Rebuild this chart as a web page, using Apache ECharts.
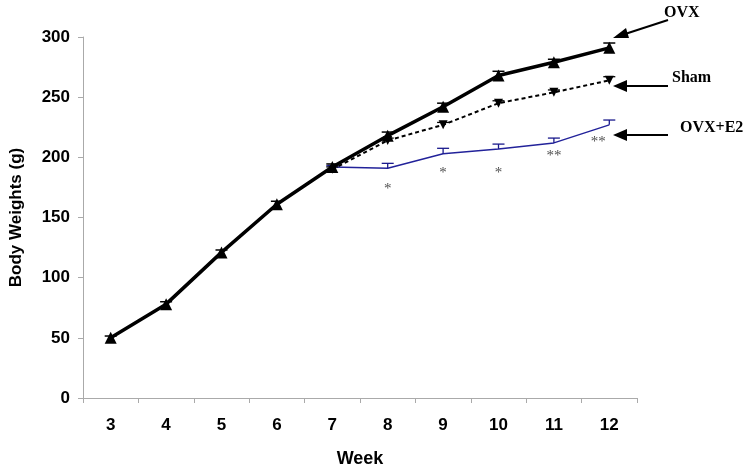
<!DOCTYPE html>
<html><head><meta charset="utf-8">
<script src="https://cdn.jsdelivr.net/npm/echarts@6/dist/echarts.min.js"></script>
<style>html,body{margin:0;padding:0;background:#fff}#c{width:751px;height:473px}</style>
</head><body><div id="c"></div>
<script>
const weeks = ['3','4','5','6','7','8','9','10','11','12'];
const ovx     = [50, 78, 121, 161, 192, 218, 242, 268, 279, 291];
const ovxErr  = [1.5, 2, 2, 2.5, 2.5, 3, 3, 3.5, 2.5, 4];
const sham    = [null, null, null, null, 190, 214, 227, 245, 254, 264];
const shamErr = [0, 0, 0, 0, 2, 2, 2, 2, 2, 3];
const e2      = [null, null, null, null, 192, 191, 203, 207, 212, 227];
const e2Err   = [0, 0, 0, 0, 1, 4, 4.5, 4, 4, 4];
const sigText = [null, null, null, null, null, '*', '*', '*', '**', '**'];
const sigY    = [null, null, null, null, null, 174, 187, 187, 201, 213];
const yTicks  = [0, 50, 100, 150, 200, 250, 300];

const chart = echarts.init(document.getElementById('c'), null, {renderer: 'canvas'});

function errSeries(vals, errs, color, width) {
  return {
    type: 'custom', z: 5,
    data: vals.map((v, i) => v == null ? null : [i, v, v + errs[i]]).filter(d => d),
    renderItem: function (params, api) {
      const p0 = api.coord([api.value(0), api.value(1)]);
      const p1 = api.coord([api.value(0), api.value(2)]);
      return {type: 'group', children: [
        {type: 'line', shape: {x1: p0[0], y1: p0[1], x2: p1[0], y2: p1[1]}, style: {stroke: color, lineWidth: width}},
        {type: 'line', shape: {x1: p1[0] - 6, y1: p1[1], x2: p1[0] + 6, y2: p1[1]}, style: {stroke: color, lineWidth: width}}
      ]};
    }
  };
}

const sans = 'Liberation Sans, Arial, sans-serif';
const axisFont = {fontFamily: sans, fontWeight: 'bold', fontSize: 17, color: '#000'};
const serif = 'Liberation Serif, Times New Roman, serif';

const sigData = [];
sigText.forEach((t, i) => {
  if (t == null) return;
  const d = {value: [i, sigY[i]], name: t};
  if (i === weeks.length - 1) d.label = {offset: [-11, 0]};
  sigData.push(d);
});

chart.setOption({
  animation: false,
  grid: {left: 81, right: 114, top: 37, bottom: 73},
  xAxis: {
    type: 'category', data: weeks, boundaryGap: true,
    name: 'Week', nameLocation: 'middle', nameGap: 52,
    nameTextStyle: {fontFamily: sans, fontWeight: 'bold', fontSize: 18, color: '#000'},
    axisLine: {lineStyle: {color: '#aaa', width: 1}},
    axisTick: {show: true, length: 5, lineStyle: {color: '#aaa'}},
    axisLabel: Object.assign({margin: 19}, axisFont),
    splitLine: {show: false}
  },
  yAxis: {
    type: 'value', min: 0, max: 300, interval: 50,
    name: 'Body Weights (g)', nameLocation: 'middle', nameGap: 58,
    nameTextStyle: axisFont,
    axisLine: {show: true, lineStyle: {color: '#aaa', width: 1}},
    axisTick: {show: true, length: 5, lineStyle: {color: '#aaa'}},
    axisLabel: Object.assign({margin: 13}, axisFont),
    splitLine: {show: false}
  },
  series: [
    errSeries(e2, e2Err, '#1a1a8c', 1.3),
    {type: 'line', data: e2, z: 3, symbol: 'none', lineStyle: {color: '#22229a', width: 1.5}, itemStyle: {color: '#22229a'}},
    errSeries(sham, shamErr, '#000', 1.3),
    {type: 'line', data: sham, z: 4, symbol: 'triangle', symbolRotate: 180, symbolSize: 9,
     lineStyle: {color: '#000', width: 2, type: [4, 3]}, itemStyle: {color: '#000'}},
    errSeries(ovx, ovxErr, '#000', 1.5),
    {type: 'line', data: ovx, z: 6, symbol: 'triangle', symbolSize: 12,
     lineStyle: {color: '#000', width: 3.5}, itemStyle: {color: '#000'}},
    {type: 'scatter', z: 7, symbolSize: 0, data: sigData,
     label: {show: true, position: 'inside', formatter: p => p.name, fontFamily: serif, fontSize: 15, color: '#222'}}
  ],
  graphic: [
    {type: 'text', left: 664, top: 5, style: {text: 'OVX', font: 'bold 16px ' + serif, fill: '#000'}},
    {type: 'text', left: 672, top: 70, style: {text: 'Sham', font: 'bold 16px ' + serif, fill: '#000'}},
    {type: 'text', left: 680, top: 120, style: {text: 'OVX+E2', font: 'bold 16px ' + serif, fill: '#000'}},
    {type: 'line', shape: {x1: 668, y1: 20, x2: 622, y2: 35}, style: {stroke: '#000', lineWidth: 2}},
    {type: 'polygon', shape: {points: [[613, 38], [626, 28], [629, 38]]}, style: {fill: '#000'}},
    {type: 'line', shape: {x1: 668, y1: 86, x2: 624, y2: 86}, style: {stroke: '#000', lineWidth: 2}},
    {type: 'polygon', shape: {points: [[613, 86], [627, 80], [627, 92]]}, style: {fill: '#000'}},
    {type: 'line', shape: {x1: 668, y1: 135, x2: 624, y2: 135}, style: {stroke: '#000', lineWidth: 2}},
    {type: 'polygon', shape: {points: [[613, 135], [627, 129], [627, 141]]}, style: {fill: '#000'}}
  ]
});
</script></body></html>
